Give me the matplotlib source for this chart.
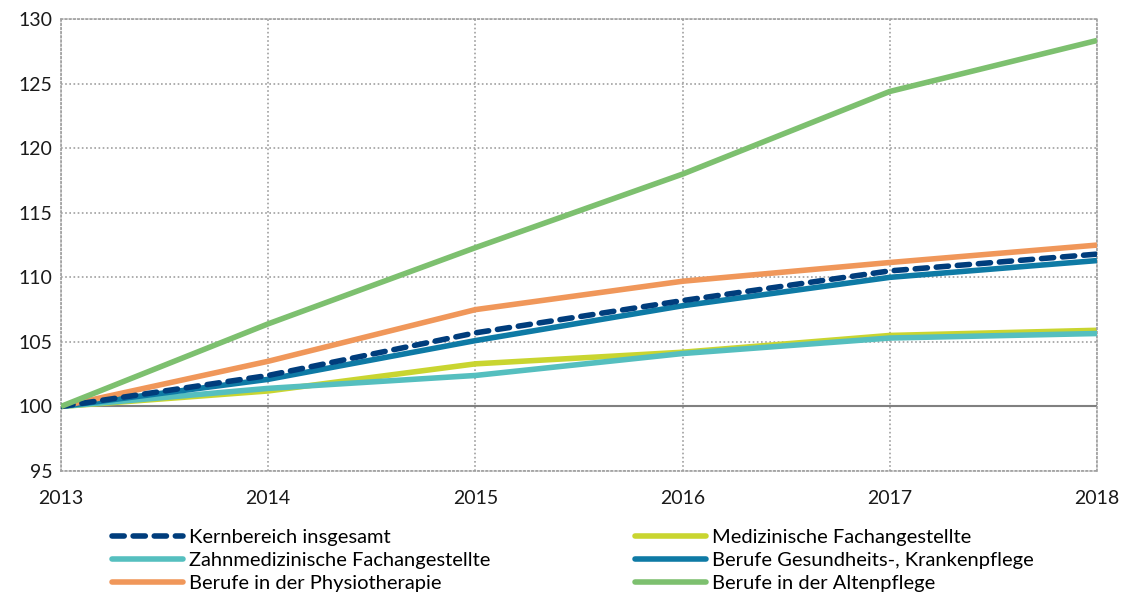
import matplotlib.pyplot as plt

years = [2013, 2014, 2015, 2016, 2017, 2018]

kernbereich = [100, 102.4, 105.7, 108.2, 110.5, 111.8]
medizinische = [100, 101.2, 103.3, 104.2, 105.5, 105.9]
zahnmedizinische = [100, 101.4, 102.4, 104.1, 105.3, 105.65]
krankenpflege = [100, 102.1, 105.1, 107.8, 110.0, 111.3]
physiotherapie = [100, 103.5, 107.5, 109.7, 111.15, 112.5]
altenpflege = [100, 106.4, 112.3, 118.0, 124.4, 128.35]

y_ticks = [95, 100, 105, 110, 115, 120, 125, 130]

plt.rcParams['font.family'] = ['Lato', 'DejaVu Sans']

fig = plt.figure(figsize=(11.21, 5.99), dpi=100)
ax = fig.add_axes([0.0544, 0.2137, 0.9242, 0.7543])

lw = 4.0
ax.plot(years, zahnmedizinische, color='#55bfbf', lw=lw, solid_capstyle='butt',
        label='Zahnmedizinische Fachangestellte', zorder=3)
ax.plot(years, medizinische, color='#c9d530', lw=lw, solid_capstyle='butt',
        label='Medizinische Fachangestellte', zorder=2)
ax.plot(years, krankenpflege, color='#0e7aa5', lw=lw, solid_capstyle='butt',
        label='Berufe Gesundheits-, Krankenpflege', zorder=4)
ax.plot(years, kernbereich, color='#003d7c', lw=lw, ls=(0, (2.2, 1.6)),
        dash_capstyle='round', label='Kernbereich insgesamt', zorder=5)
ax.plot(years, physiotherapie, color='#f0975a', lw=lw, solid_capstyle='butt',
        label='Berufe in der Physiotherapie', zorder=4)
ax.plot(years, altenpflege, color='#7dc06f', lw=lw, solid_capstyle='butt',
        label='Berufe in der Altenpflege', zorder=6)

ax.axhline(100, color='#808080', lw=1.5, zorder=1)

ax.set_xlim(2013, 2018)
ax.set_ylim(95, 130)
ax.set_xticks(years)
ax.set_yticks(y_ticks)
ax.grid(True, color='#a0a0a0', ls=(0, (1, 1.5)), lw=1.2)
for s in ax.spines.values():
    s.set_color('#a0a0a0')
    s.set_linestyle((0, (1, 1.5)))
    s.set_linewidth(1.2)
ax.tick_params(length=0, labelsize=14, colors='#1a1a1a')
ax.tick_params(axis='x', pad=14)
ax.tick_params(axis='y', pad=6)
ax.set_axisbelow(True)

handles, labels = ax.get_legend_handles_labels()
order = ['Kernbereich insgesamt', 'Zahnmedizinische Fachangestellte',
         'Berufe in der Physiotherapie', 'Medizinische Fachangestellte',
         'Berufe Gesundheits-, Krankenpflege', 'Berufe in der Altenpflege']
hmap = dict(zip(labels, handles))
leg = fig.legend([hmap[o] for o in order], order, ncol=2, frameon=False,
                 loc='upper left', bbox_to_anchor=(0.093, 0.13),
                 fontsize=14.5, handlelength=3.5, handletextpad=0.3,
                 labelspacing=0.28, columnspacing=7.2, borderaxespad=0)
for line in leg.get_lines():
    line.set_solid_capstyle('round')

fig.savefig('out.png', dpi=100)
